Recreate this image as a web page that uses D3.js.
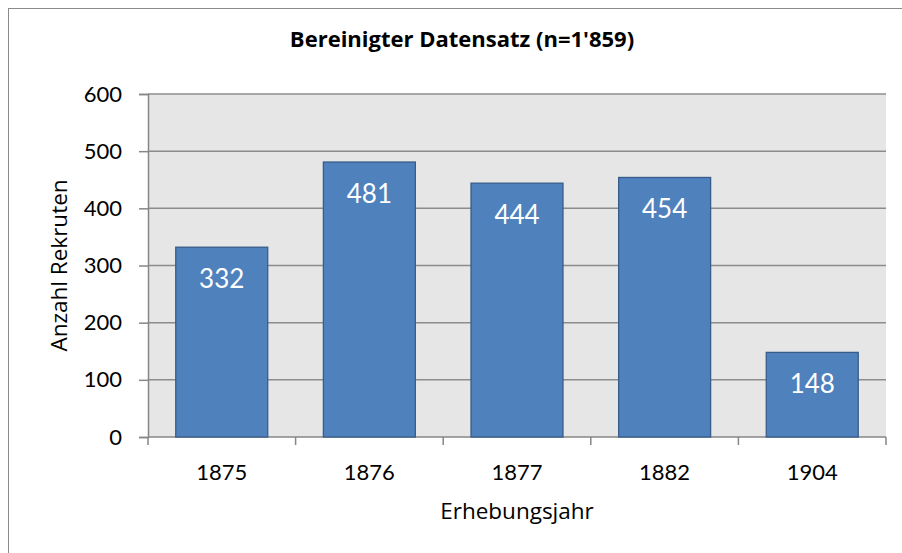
<!DOCTYPE html>
<html>
<head>
<meta charset="utf-8">
<script src="https://cdn.jsdelivr.net/npm/d3@7"></script>
<style>
	body { margin: 0; background: #fff; }
	text { font-family: Lato, "Liberation Sans", sans-serif; fill: #000; }
</style>
</head>
<body>
<svg id="chart" width="902" height="553"></svg>
<script>
// data
const years = ["1875", "1876", "1877", "1882", "1904"]
const recruits = [332, 481, 444, 454, 148]
const yTicks = [0, 100, 200, 300, 400, 500, 600]

const titleText = "Bereinigter Datensatz (n=1'859)"
const xTitle = "Erhebungsjahr"
const yTitle = "Anzahl Rekruten"

const svg = d3.select("#chart")
const plot = { left: 148, right: 886, top: 94, bottom: 437 }

//outer chart frame, only top & left edges are inside the picture
svg.append("rect")
	.attr("x", 8.5).attr("y", 8.5)
	.attr("width", 920).attr("height", 580)
	.attr("fill", "none")
	.attr("stroke", "#8a8a8a")

const x = d3.scaleBand()
	.domain(years)
	.range([plot.left, plot.right])
	.paddingInner(0.377)
	.paddingOuter(0.188)

const y = d3.scaleLinear()
	.domain([0, 600])
	.range([plot.bottom, plot.top])

svg.append("rect")
	.attr("x", plot.left).attr("y", plot.top)
	.attr("width", plot.right - plot.left)
	.attr("height", plot.bottom - plot.top)
	.attr("fill", "#e6e6e6")

// gridlines
svg.append("g")
	.selectAll("line")
	.data(yTicks.filter(d => d > 0))
	.join("line")
		.attr("x1", plot.left).attr("x2", plot.right)
		.attr("y1", d => y(d)).attr("y2", d => y(d))
		.attr("stroke", "#8c8c8c")
		.attr("stroke-width", 1.5)

// y axis
const yAxis = svg.append("g")
	.attr("transform", `translate(${plot.left},0)`)
	.call(d3.axisLeft(y).tickValues(yTicks).tickSize(9).tickPadding(17))
yAxis.select(".domain").attr("stroke", "#868686").attr("stroke-width", 1.5)
yAxis.selectAll(".tick line").attr("stroke", "#868686").attr("stroke-width", 1.5)
yAxis.selectAll(".tick text")
	.attr("font-size", 22)
	.attr("font-family", "Lato, sans-serif")
	.attr("fill", "#000")

// x axis: ticks sit between categories (boundaries)
const boundaries = d3.range(years.length + 1).map(i => plot.left + i * (plot.right - plot.left) / years.length)
const xAxis = svg.append("g")
xAxis.append("line")
	.attr("x1", plot.left).attr("x2", plot.right)
	.attr("y1", plot.bottom).attr("y2", plot.bottom)
	.attr("stroke", "#868686").attr("stroke-width", 1.5)
xAxis.selectAll("line.tick")
	.data(boundaries)
	.join("line")
		.classed("tick", true)
		.attr("x1", d => d).attr("x2", d => d)
		.attr("y1", plot.bottom).attr("y2", plot.bottom + 8)
		.attr("stroke", "#868686").attr("stroke-width", 1.5)
xAxis.selectAll("text")
	.data(years)
	.join("text")
		.attr("x", d => x(d) + x.bandwidth() / 2)
		.attr("y", 480)
		.attr("text-anchor", "middle")
		.attr("font-size", 22)
		.text(d => d)

// bars
const bars = years.map((yr, i) => ({ year: yr, value: recruits[i] }))
svg.append("g")
	.selectAll("rect")
	.data(bars)
	.join("rect")
		.attr("x", d => x(d.year))
		.attr("y", d => y(d.value))
		.attr("width", x.bandwidth())
		.attr("height", d => y(0) - y(d.value))
		.attr("fill", "#4f81bd")
		.attr("stroke", "#385d8a")
		.attr("stroke-width", 1.3)

svg.append("g")
	.selectAll("text")
	.data(bars)
	.join("text")
		.attr("x", d => x(d.year) + x.bandwidth() / 2)
		.attr("y", d => y(d.value) + 41)
		.attr("text-anchor", "middle")
		.attr("font-size", 26)
		.style("fill", "#fff")
		.text(d => d.value)

// titles
svg.append("text")
	.attr("x", 462).attr("y", 47)
	.attr("text-anchor", "middle")
	.attr("font-size", 22)
	.attr("font-weight", "bold")
	.style("font-family", "'Open Sans', sans-serif")
	.text(titleText)

svg.append("text")
	.attr("x", (plot.left + plot.right) / 2).attr("y", 519)
	.attr("text-anchor", "middle")
	.attr("font-size", 22.5)
	.style("font-family", "'Open Sans', sans-serif")
	.text(xTitle)

svg.append("text")
	.attr("transform", `translate(67,${(plot.top + plot.bottom) / 2}) rotate(-90)`)
	.attr("text-anchor", "middle")
	.attr("font-size", 22.5)
	.style("font-family", "'Open Sans', sans-serif")
	.text(yTitle)
</script>
</body>
</html>
